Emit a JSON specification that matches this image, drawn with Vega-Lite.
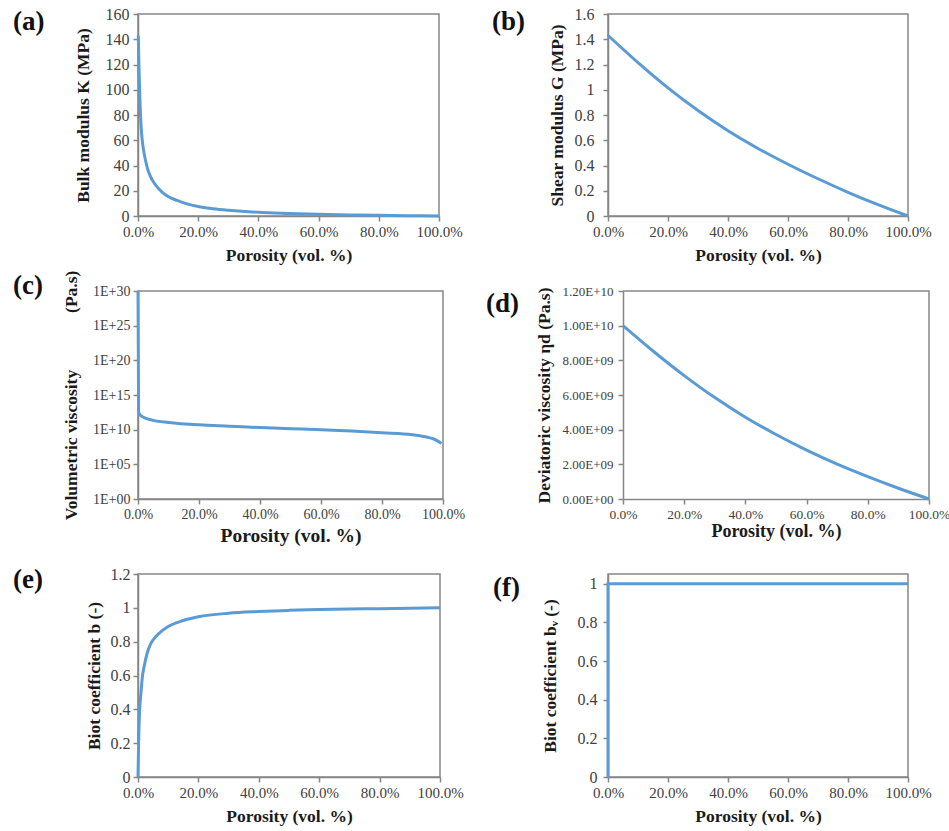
{
  "$schema": "https://vega.github.io/schema/vega-lite/v6.json",
  "background": "white",
  "padding": {"left": 12, "top": 5, "right": 5, "bottom": 5},
  "datasets": {
    "a": [
      {"porosity": 0.001, "value": 143}, {"porosity": 0.003, "value": 120}, {"porosity": 0.006, "value": 95},
      {"porosity": 0.01, "value": 72}, {"porosity": 0.015, "value": 58}, {"porosity": 0.02, "value": 50},
      {"porosity": 0.03, "value": 39}, {"porosity": 0.04, "value": 32}, {"porosity": 0.05, "value": 27.5},
      {"porosity": 0.06, "value": 24}, {"porosity": 0.08, "value": 19}, {"porosity": 0.10, "value": 15.5},
      {"porosity": 0.13, "value": 12.3}, {"porosity": 0.16, "value": 9.8}, {"porosity": 0.20, "value": 7.5},
      {"porosity": 0.25, "value": 5.8}, {"porosity": 0.30, "value": 4.6}, {"porosity": 0.40, "value": 2.9},
      {"porosity": 0.50, "value": 2.0}, {"porosity": 0.60, "value": 1.3}, {"porosity": 0.70, "value": 0.85},
      {"porosity": 0.80, "value": 0.5}, {"porosity": 0.90, "value": 0.2}, {"porosity": 1.0, "value": 0}
    ],
    "b": [
      {"porosity": 0, "value": 1.43}, {"porosity": 0.1, "value": 1.215}, {"porosity": 0.2, "value": 1.015},
      {"porosity": 0.3, "value": 0.835}, {"porosity": 0.4, "value": 0.675}, {"porosity": 0.5, "value": 0.535},
      {"porosity": 0.6, "value": 0.41}, {"porosity": 0.7, "value": 0.295}, {"porosity": 0.8, "value": 0.188},
      {"porosity": 0.9, "value": 0.09}, {"porosity": 1.0, "value": 0}
    ],
    "c": [
      {"porosity": 0, "value": 1e30}, {"porosity": 0.002, "value": 3.2e12}, {"porosity": 0.01, "value": 1.0e12},
      {"porosity": 0.02, "value": 5.6e11}, {"porosity": 0.05, "value": 2.2e11}, {"porosity": 0.10, "value": 1.12e11},
      {"porosity": 0.20, "value": 5.0e10}, {"porosity": 0.30, "value": 3.16e10}, {"porosity": 0.40, "value": 2.0e10},
      {"porosity": 0.50, "value": 1.41e10}, {"porosity": 0.60, "value": 1.0e10}, {"porosity": 0.70, "value": 6.3e9},
      {"porosity": 0.80, "value": 3.5e9}, {"porosity": 0.90, "value": 1.8e9}, {"porosity": 0.95, "value": 7.9e8},
      {"porosity": 0.97, "value": 4.5e8}, {"porosity": 0.995, "value": 1.0e8}
    ],
    "d": [
      {"porosity": 0, "value": 1.0e10}, {"porosity": 0.1, "value": 8.51e9}, {"porosity": 0.2, "value": 7.12e9},
      {"porosity": 0.3, "value": 5.85e9}, {"porosity": 0.4, "value": 4.72e9}, {"porosity": 0.5, "value": 3.72e9},
      {"porosity": 0.6, "value": 2.82e9}, {"porosity": 0.7, "value": 2.01e9}, {"porosity": 0.8, "value": 1.29e9},
      {"porosity": 0.9, "value": 0.62e9}, {"porosity": 1.0, "value": 0}
    ],
    "e": [
      {"porosity": 0, "value": 0}, {"porosity": 0.002, "value": 0.2}, {"porosity": 0.005, "value": 0.38},
      {"porosity": 0.01, "value": 0.5}, {"porosity": 0.015, "value": 0.6}, {"porosity": 0.02, "value": 0.65},
      {"porosity": 0.03, "value": 0.73}, {"porosity": 0.04, "value": 0.78}, {"porosity": 0.05, "value": 0.81},
      {"porosity": 0.07, "value": 0.85}, {"porosity": 0.10, "value": 0.89}, {"porosity": 0.15, "value": 0.925},
      {"porosity": 0.20, "value": 0.947}, {"porosity": 0.30, "value": 0.968}, {"porosity": 0.40, "value": 0.978},
      {"porosity": 0.50, "value": 0.985}, {"porosity": 0.60, "value": 0.99}, {"porosity": 0.80, "value": 0.995},
      {"porosity": 1.0, "value": 1.0}
    ],
    "f": [
      {"i": 0, "porosity": 0, "value": 0}, {"i": 1, "porosity": 0, "value": 1}, {"i": 2, "porosity": 1, "value": 1}
    ],
    "dframe": [
      {"i": 0, "porosity": 0, "value": 1.2e10}, {"i": 1, "porosity": 1, "value": 1.2e10}, {"i": 2, "porosity": 1, "value": 0}
    ]
  },
  "config": {
    "view": {"stroke": "#868686", "strokeWidth": 1.5},
    "axis": {
      "labelFont": "Liberation Serif", "labelFontSize": 15, "labelColor": "#404040",
      "titleFont": "Liberation Serif", "titleFontSize": 17.5, "titleFontWeight": "bold", "titleColor": "#1a1a1a",
      "domainColor": "#868686", "domainWidth": 1.5, "tickColor": "#868686", "tickWidth": 1.5, "tickSize": 5,
      "grid": false, "labelPadding": 3, "labelFlush": false, "labelOverlap": false
    },
    "title": {"font": "Liberation Serif", "fontSize": 27, "fontWeight": "bold", "color": "#111111",
      "anchor": "start", "frame": "group", "offset": 0, "baseline": "middle"},
    "line": {"color": "#5b9bd5", "strokeWidth": 3}
  },
  "bounds": "flush",
  "align": "none",
  "columns": 2,
  "spacing": {"row": 75, "column": 165},
  "concat": [
    {
      "width": 301, "height": 202, "data": {"name": "a"},
      "title": {"text": "(a)", "dx": -125, "dy": 34},
      "mark": {"type": "line", "interpolate": "monotone"},
      "encoding": {
        "x": {"field": "porosity", "type": "quantitative", "scale": {"domain": [0, 1], "nice": false},
          "axis": {"title": "Porosity (vol. %)", "values": [0, 0.2, 0.4, 0.6, 0.8, 1], "format": ".1%", "titlePadding": 7}},
        "y": {"field": "value", "type": "quantitative", "scale": {"domain": [0, 160], "nice": false},
          "axis": {"title": "Bulk modulus K (MPa)", "values": [0, 20, 40, 60, 80, 100, 120, 140, 160], "labelFontSize": 16, "labelPadding": 4, "titlePadding": 13}}
      }
    },
    {
      "width": 300, "height": 202, "data": {"name": "b"},
      "title": {"text": "(b)", "dx": -116, "dy": 34},
      "mark": {"type": "line", "interpolate": "monotone"},
      "encoding": {
        "x": {"field": "porosity", "type": "quantitative", "scale": {"domain": [0, 1], "nice": false},
          "axis": {"title": "Porosity (vol. %)", "values": [0, 0.2, 0.4, 0.6, 0.8, 1], "format": ".1%", "titlePadding": 7}},
        "y": {"field": "value", "type": "quantitative", "scale": {"domain": [0, 1.6], "nice": false},
          "axis": {"title": "Shear modulus G (MPa)", "values": [0, 0.2, 0.4, 0.6, 0.8, 1, 1.2, 1.4, 1.6], "format": "~g", "labelFontSize": 16, "labelPadding": 9, "titlePadding": 8}}
      }
    },
    {
      "width": 305, "height": 208, "data": {"name": "c"},
      "title": {"text": "(c)", "dx": -125, "dy": 34},
      "mark": {"type": "line", "interpolate": "monotone"},
      "encoding": {
        "x": {"field": "porosity", "type": "quantitative", "scale": {"domain": [0, 1], "nice": false},
          "axis": {"title": "Porosity (vol. %)", "values": [0, 0.2, 0.4, 0.6, 0.8, 1], "format": ".1%", "titlePadding": 5, "titleFontSize": 19.5, "labelFontSize": 14}},
        "y": {"field": "value", "type": "quantitative", "scale": {"type": "log", "domain": [1, 1e30], "nice": false},
          "axis": {"title": "Volumetric viscosity\u00a0\u00a0\u00a0\u00a0\u00a0\u00a0\u00a0\u00a0\u00a0\u00a0\u00a0\u00a0 (Pa.s)", "values": [1, 1e5, 1e10, 1e15, 1e20, 1e25, 1e30],
            "labelExpr": "'1E+' + (round(log(datum.value)/LN10) < 10 ? '0' : '') + round(log(datum.value)/LN10)",
            "labelFontSize": 14, "titlePadding": 12}}
      }
    },
    {
      "width": 321, "height": 208,
      "view": {"stroke": null},
      "title": {"text": "(d)", "dx": -122, "dy": 37},
      "encoding": {
        "x": {"field": "porosity", "type": "quantitative", "scale": {"domain": [0, 1], "nice": false, "range": [15, 321]},
          "axis": {"title": "Porosity (vol. %)", "values": [0, 0.2, 0.4, 0.6, 0.8, 1], "format": ".1%", "titlePadding": 2, "titleFontSize": 18, "labelFontSize": 13.5, "labelOverlap": false}},
        "y": {"field": "value", "type": "quantitative", "scale": {"domain": [0, 1.2e10], "nice": false},
          "axis": {"title": "Deviatoric viscosity ηd (Pa.s)", "values": [0, 2e9, 4e9, 6e9, 8e9, 1e10, 1.2e10], "offset": -15, "labelOverlap": false,
            "labelExpr": "datum.value == 0 ? '0.00E+00' : format(datum.value / pow(10, floor(log(datum.value)/LN10 + 1e-9)), '.2f') + 'E+' + (floor(log(datum.value)/LN10 + 1e-9) < 10 ? '0' : '') + floor(log(datum.value)/LN10 + 1e-9)",
            "labelFontSize": 13, "labelPadding": 5, "titlePadding": 8}}
      },
      "layer": [
        {
          "data": {"name": "dframe"},
          "mark": {"type": "line", "color": "#868686", "strokeWidth": 1.5},
          "encoding": {"order": {"field": "i", "type": "quantitative"}}
        },
        {
          "data": {"name": "d"},
          "mark": {"type": "line", "interpolate": "monotone"}
        }
      ]
    },
    {
      "width": 302, "height": 203, "data": {"name": "e"},
      "title": {"text": "(e)", "dx": -125, "dy": 32},
      "mark": {"type": "line", "interpolate": "monotone"},
      "encoding": {
        "x": {"field": "porosity", "type": "quantitative", "scale": {"domain": [0, 1], "nice": false},
          "axis": {"title": "Porosity (vol. %)", "values": [0, 0.2, 0.4, 0.6, 0.8, 1], "format": ".1%", "titlePadding": 7}},
        "y": {"field": "value", "type": "quantitative", "scale": {"domain": [0, 1.2], "nice": false},
          "axis": {"title": "Biot coefficient b (-)", "values": [0, 0.2, 0.4, 0.6, 0.8, 1, 1.2], "format": "~g", "labelFontSize": 16, "titlePadding": 7}}
      }
    },
    {
      "width": 300, "height": 203, "data": {"name": "f"},
      "title": {"text": "(f)", "dx": -115, "dy": 32},
      "mark": {"type": "line"},
      "encoding": {
        "x": {"field": "porosity", "type": "quantitative", "scale": {"domain": [0, 1], "nice": false},
          "axis": {"title": "Porosity (vol. %)", "values": [0, 0.2, 0.4, 0.6, 0.8, 1], "format": ".1%", "titlePadding": 7}},
        "y": {"field": "value", "type": "quantitative", "scale": {"domain": [0, 1.05], "nice": false},
          "axis": {"title": "Biot coefficient bᵥ (-)", "values": [0, 0.2, 0.4, 0.6, 0.8, 1], "format": "~g", "labelFontSize": 16, "labelPadding": 6, "titlePadding": 18}},
        "order": {"field": "i", "type": "quantitative"}
      }
    }
  ]
}
